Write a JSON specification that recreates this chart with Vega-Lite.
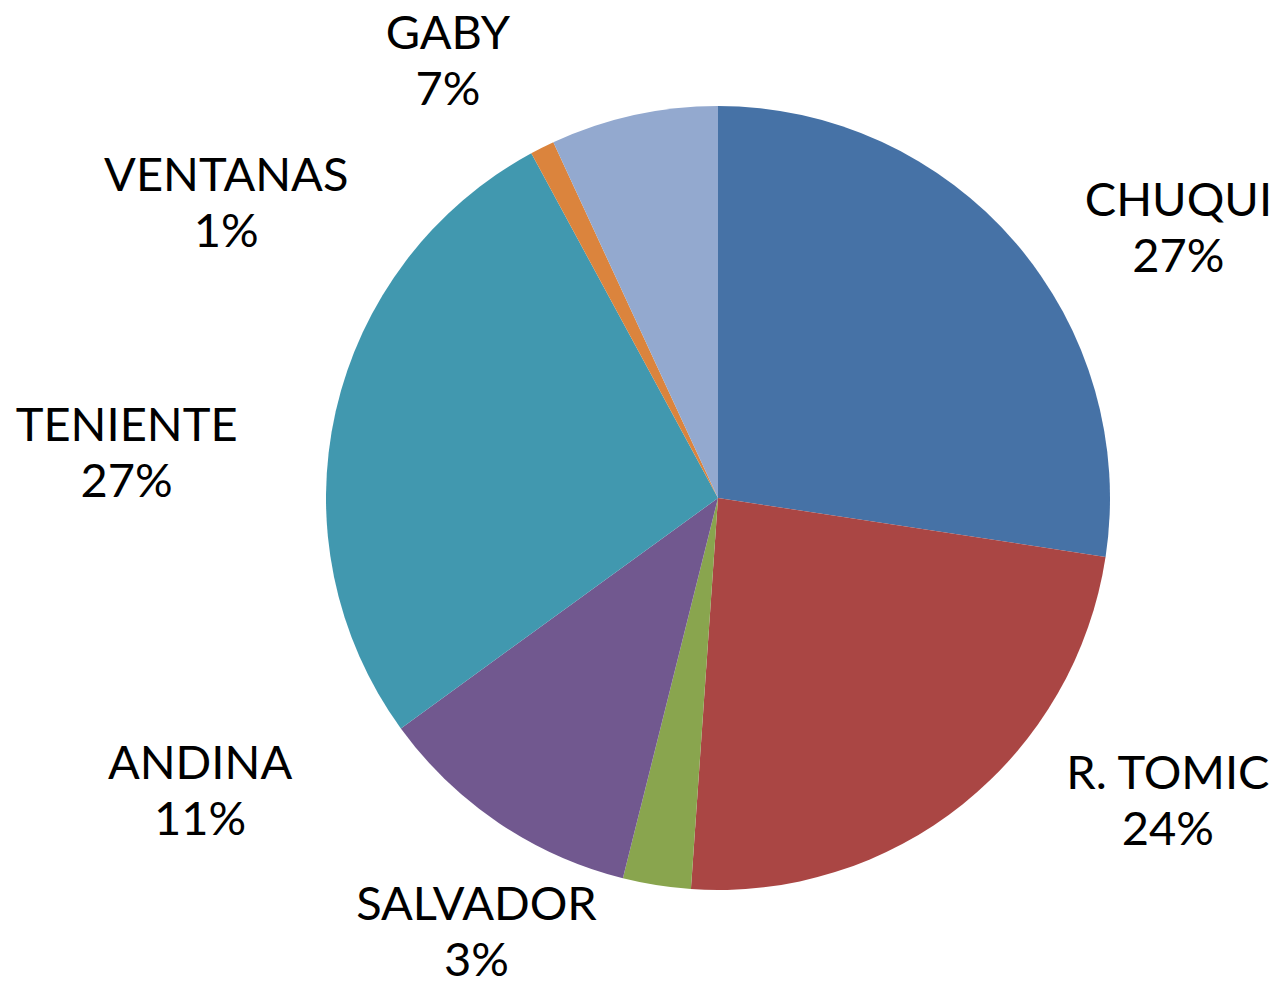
{
  "$schema": "https://vega.github.io/schema/vega-lite/v6.json",
  "width": 1124,
  "height": 970,
  "autosize": {"type": "none"},
  "padding": {"left": 156, "top": 13, "right": 0, "bottom": 0},
  "background": "white",
  "config": {"view": {"stroke": null}},
  "data": {
    "values": [
      {"mine": "CHUQUI", "share": 27.4, "ord": 1, "label": "CHUQUI\n27%"},
      {"mine": "R. TOMIC", "share": 23.7, "ord": 2, "label": "R. TOMIC\n24%"},
      {"mine": "SALVADOR", "share": 2.8, "ord": 3, "label": "SALVADOR\n3%"},
      {"mine": "ANDINA", "share": 11.1, "ord": 4, "label": "ANDINA\n11%"},
      {"mine": "TENIENTE", "share": 27.1, "ord": 5, "label": "TENIENTE\n27%"},
      {"mine": "VENTANAS", "share": 1.0, "ord": 6, "label": "VENTANAS\n1%"},
      {"mine": "GABY", "share": 6.9, "ord": 7, "label": "GABY\n7%"}
    ]
  },
  "encoding": {
    "theta": {"field": "share", "type": "quantitative", "stack": true},
    "order": {"field": "ord", "type": "quantitative"}
  },
  "layer": [
    {
      "mark": {"type": "arc", "outerRadius": 392, "stroke": null},
      "encoding": {
        "color": {
          "field": "mine",
          "type": "nominal",
          "legend": null,
          "scale": {
            "domain": ["CHUQUI", "R. TOMIC", "SALVADOR", "ANDINA", "TENIENTE", "VENTANAS", "GABY"],
            "range": ["#4672A6", "#AA4644", "#89A54E", "#71588F", "#4198AF", "#DB843D", "#93A9CF"]
          }
        }
      }
    },
    {
      "mark": {"type": "text", "radius": 470, "dx": 104, "dy": 10, "font": "Lato", "fontSize": 47, "lineHeight": 56, "lineBreak": "\n", "align": "center", "baseline": "middle", "color": "black"},
      "encoding": {"text": {"condition": {"test": "datum.mine === 'CHUQUI'", "field": "label"}, "value": ""}}
    },
    {
      "mark": {"type": "text", "radius": 470, "dx": 156, "dy": -90, "font": "Lato", "fontSize": 47, "lineHeight": 56, "lineBreak": "\n", "align": "center", "baseline": "middle", "color": "black"},
      "encoding": {"text": {"condition": {"test": "datum.mine === 'R. TOMIC'", "field": "label"}, "value": ""}}
    },
    {
      "mark": {"type": "text", "radius": 470, "dx": -168, "dy": -56, "font": "Lato", "fontSize": 47, "lineHeight": 56, "lineBreak": "\n", "align": "center", "baseline": "middle", "color": "black"},
      "encoding": {"text": {"condition": {"test": "datum.mine === 'SALVADOR'", "field": "label"}, "value": ""}}
    },
    {
      "mark": {"type": "text", "radius": 470, "dx": -255, "dy": -123, "font": "Lato", "fontSize": 47, "lineHeight": 56, "lineBreak": "\n", "align": "center", "baseline": "middle", "color": "black"},
      "encoding": {"text": {"condition": {"test": "datum.mine === 'ANDINA'", "field": "label"}, "value": ""}}
    },
    {
      "mark": {"type": "text", "radius": 470, "dx": -133, "dy": 33, "font": "Lato", "fontSize": 47, "lineHeight": 56, "lineBreak": "\n", "align": "center", "baseline": "middle", "color": "black"},
      "encoding": {"text": {"condition": {"test": "datum.mine === 'TENIENTE'", "field": "label"}, "value": ""}}
    },
    {
      "mark": {"type": "text", "radius": 470, "dx": -281, "dy": 99, "font": "Lato", "fontSize": 47, "lineHeight": 56, "lineBreak": "\n", "align": "center", "baseline": "middle", "color": "black"},
      "encoding": {"text": {"condition": {"test": "datum.mine === 'VENTANAS'", "field": "label"}, "value": ""}}
    },
    {
      "mark": {"type": "text", "radius": 470, "dx": -169, "dy": -4, "font": "Lato", "fontSize": 47, "lineHeight": 56, "lineBreak": "\n", "align": "center", "baseline": "middle", "color": "black"},
      "encoding": {"text": {"condition": {"test": "datum.mine === 'GABY'", "field": "label"}, "value": ""}}
    }
  ]
}
